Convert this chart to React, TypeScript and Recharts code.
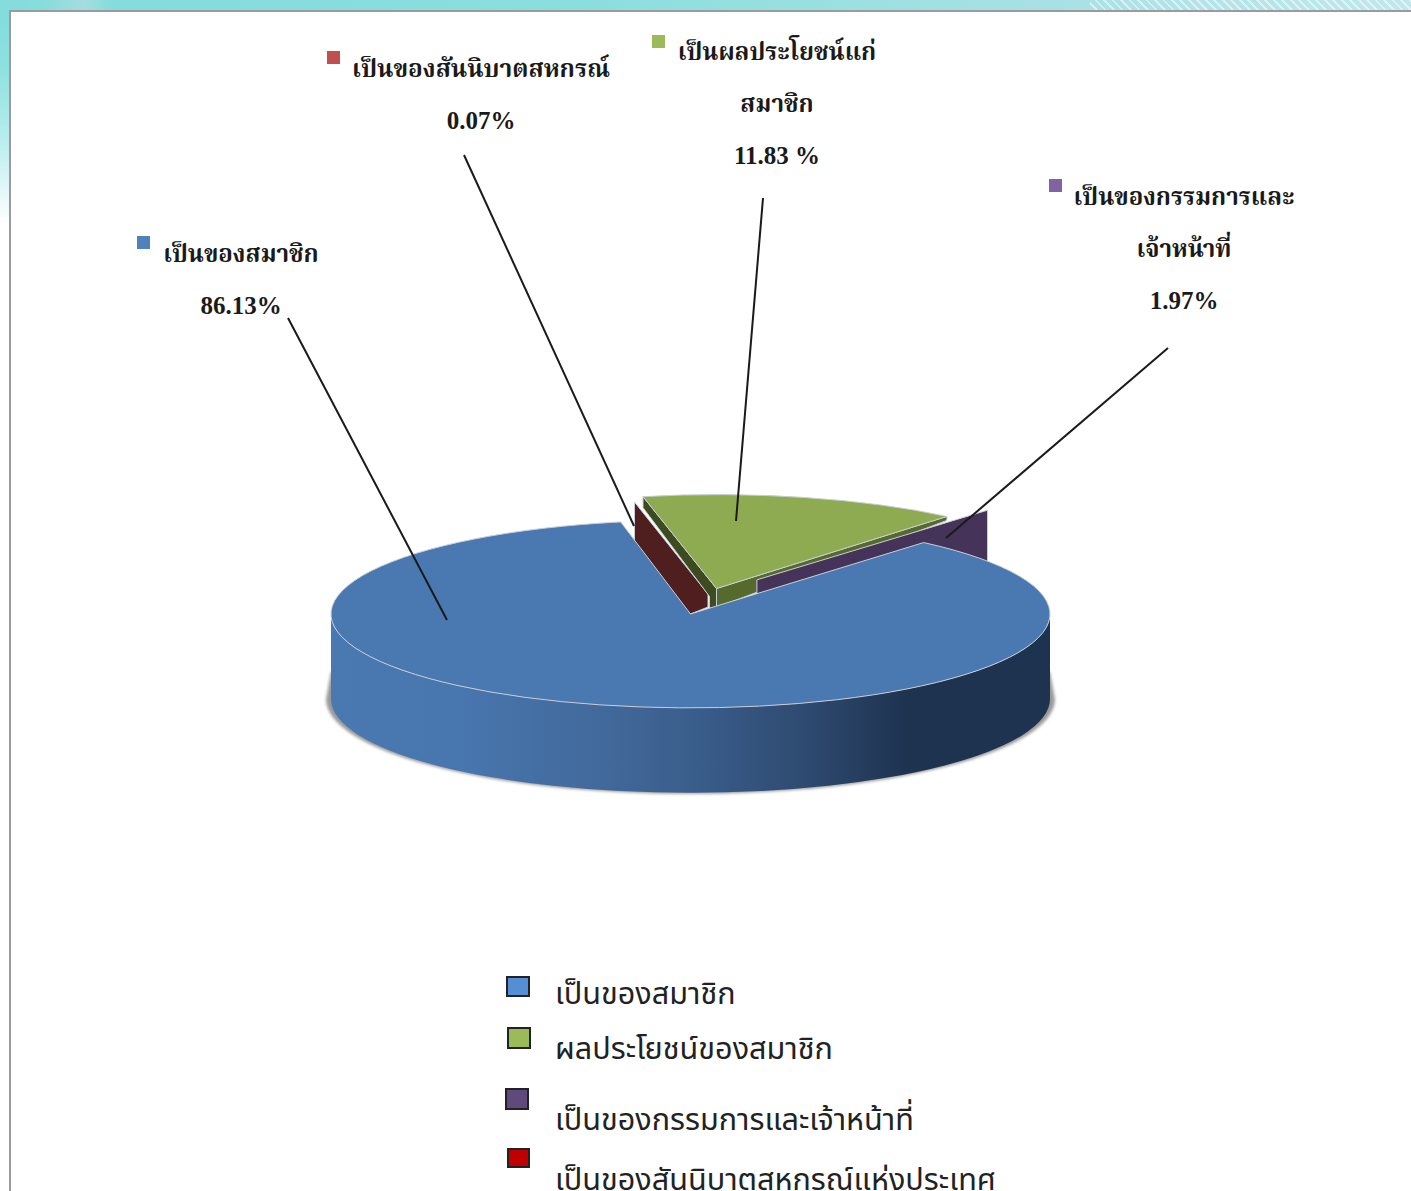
import React from 'react';
import { PieChart, Pie, Legend } from 'recharts';

// ---- data (clockwise from the top) ----
const sliceNames = ['เป็นของสันนิบาตสหกรณ์', 'เป็นผลประโยชน์แก่สมาชิก', 'เป็นของกรรมการและเจ้าหน้าที่', 'เป็นของสมาชิก'];
const sliceValues = [0.07, 11.83, 1.97, 86.13];
const labelTexts = [
  ['เป็นของสันนิบาตสหกรณ์', '0.07%'],
  ['เป็นผลประโยชน์แก่', 'สมาชิก', '11.83 %'],
  ['เป็นของกรรมการและ', 'เจ้าหน้าที่', '1.97%'],
  ['เป็นของสมาชิก', '86.13%'],
];
const legendNames = ['เป็นของสมาชิก', 'ผลประโยชน์ของสมาชิก', 'เป็นของกรรมการและเจ้าหน้าที่', 'เป็นของสันนิบาตสหกรณ์แห่งประเทศ'];

const chartData = sliceNames.map((name, i) => ({ name, value: sliceValues[i], idx: i }));

// ---- layout & style ----
const W = 1411, H = 1191;
const CX = 690.5, CY = 614, R = 359.5, K = 94 / 360, DEPTH = 85;
const START = 101.5;
const THAI_BOLD = "'Liberation Serif', 'Noto Serif Thai', 'Noto Sans Thai', serif";
const THAI_SANS = "'Noto Sans', 'Noto Sans Thai', 'DejaVu Sans', sans-serif";

const labelLayout = [
  { cx: 481, y0: 77, size: 24.4, mark: [327, 51], markFill: '#c0504d', lead: [464, 155, 634, 526] },
  { cx: 777, y0: 60, size: 24, mark: [652, 35], markFill: '#9bbb59', lead: [763, 198, 736, 521] },
  { cx: 1184, y0: 205, size: 24, mark: [1049, 179], markFill: '#8064a2', lead: [1168, 348, 946, 538] },
  { cx: 241, y0: 262, size: 24, mark: [137, 236], markFill: '#4f81bd', lead: [288, 318, 447, 620] },
];
const legendLayout = [
  { box: [507, 977, 22, 19], fill: '#558ed5', y: 1004 },
  { box: [508, 1028, 22, 20], fill: '#9bbb59', y: 1059 },
  { box: [506, 1089, 22, 20], fill: '#604a7b', y: 1130 },
  { box: [508, 1149, 21, 18], fill: '#c00000', y: 1190 },
];

const pt = (x: number, y: number, r: number, deg: number) => {
  const a = (deg * Math.PI) / 180;
  return [x + r * Math.cos(a), y - r * K * Math.sin(a)];
};
const poly = (pts: number[][]) => 'M' + pts.map((p) => p.map((v) => v.toFixed(1)).join(',')).join('L') + 'Z';
const sector = (x: number, y: number, r: number, a0: number, a1: number) => {
  const s = pt(x, y, r, a0), e = pt(x, y, r, a1);
  const large = Math.abs(a0 - a1) > 180 ? 1 : 0;
  return `M${x},${y}L${s[0]},${s[1]}A${r},${r * K} 0 ${large} 1 ${e[0]},${e[1]}Z`;
};
const EDGE = '#c9ced6';

function SliceShape(props: any) {
  const { cx, cy, outerRadius: r, startAngle, endAngle } = props;
  const idx = props.idx ?? props.payload?.idx;
  if (idx === 0) {
    // red: only its cut wall shows
    const a = [cx + 17.5, cy - 20];
    const o = pt(a[0], a[1], r, startAngle + 0.3);
    return (
      <path d={poly([o, a, [a[0], a[1] + 13], [cx, cy], [o[0], o[1] + 60]])} fill="#4f1f1f" stroke={EDGE} strokeWidth={1} />
    );
  }
  if (idx === 1) {
    const a = [cx + 26, cy - 25.5];
    const a0 = startAngle + 0.55;
    const a1 = startAngle - (startAngle - endAngle) * 1.2;
    const s = pt(a[0], a[1], r, a0);
    const e = pt(a[0], a[1], r, a1);
    return (
      <g>
        <path
          d={poly([s, a, [a[0], a[1] + 19], [a[0] - 7, a[1] + 20], [a[0] - 7, a[1] + 8], [s[0], s[1] + 11]])}
          fill="#3d4c20" stroke={EDGE} strokeWidth={1}
        />
        <path d={poly([a, e, [e[0], e[1] + 4], [a[0], a[1] + 19]])} fill="#556a2c" stroke={EDGE} strokeWidth={1} />
        <path d={sector(a[0], a[1], r, a0, a1)} fill="#8fab52" stroke={EDGE} strokeWidth={1} />
      </g>
    );
  }
  if (idx === 2) {
    const a = [cx + 29.5, cy - 23];
    const o = pt(a[0], a[1], r * 1.138, endAngle - 2.4);
    const p = [a[0] + (o[0] - a[0]) * 0.138, a[1] + (o[1] - a[1]) * 0.138];
    return (
      <path d={poly([p, o, [o[0], o[1] + 60], [p[0], p[1] + 60]])} fill="#46335a" stroke={EDGE} strokeWidth={1} />
    );
  }
  const wall = `M${cx - r},${cy}A${r},${r * K} 0 0 0 ${cx + r},${cy}L${cx + r},${cy + DEPTH}A${r},${r * K} 0 0 1 ${cx - r},${cy + DEPTH}Z`;
  const sr = r + 5;
  const shadow = `M${cx - r},${cy + 58}L${cx - sr},${cy + DEPTH}A${sr},${r * K + 1} 0 0 0 ${cx + sr},${cy + DEPTH}L${cx + r},${cy + 58}Z`;
  return (
    <g>
      <defs>
        <linearGradient id="wallGrad" x1="0" y1="0" x2="1" y2="0">
          <stop offset="0" stopColor="#4a78b0" />
          <stop offset="0.16" stopColor="#4877b0" />
          <stop offset="0.38" stopColor="#42699b" />
          <stop offset="0.5" stopColor="#3a5e8c" />
          <stop offset="0.66" stopColor="#2e4a70" />
          <stop offset="0.8" stopColor="#1e3350" />
          <stop offset="1" stopColor="#1e3350" />
        </linearGradient>
        <filter id="softShadow" x="-5%" y="-20%" width="110%" height="140%">
          <feGaussianBlur stdDeviation="1.6" />
        </filter>
      </defs>
      <path d={shadow} fill="#9a9a9a" filter="url(#softShadow)" />
      <path d={wall} fill="url(#wallGrad)" />
      <path d={sector(cx, cy, r, startAngle - 2, endAngle - 0.3)} fill="#4a78b0" stroke={EDGE} strokeWidth={1} />
    </g>
  );
}

function SliceLabel(props: any) {
  const idx = props.idx ?? props.payload?.idx ?? props.index;
  const l = labelLayout[idx];
  const [x1, y1, x2, y2] = l.lead;
  const lines = labelTexts[idx];
  return (
    <g>
      <rect x={l.mark[0]} y={l.mark[1]} width={13} height={13} fill={l.markFill} />
      <text fontFamily={THAI_BOLD} fontWeight="bold" fill="#1a1a1a" textAnchor="middle">
        {lines.map((t, i) => (
          <tspan key={i} x={l.cx} y={l.y0 + i * 52} fontSize={i === lines.length - 1 ? 25 : l.size}>{t}</tspan>
        ))}
      </text>
      <line x1={x1} y1={y1} x2={x2} y2={y2} stroke="#1a1a1a" strokeWidth={2} />
    </g>
  );
}

function LegendBlock() {
  return (
    <svg width={W} height={H} style={{ position: 'absolute', left: 0, top: 0 }}>
      {legendNames.map((n, i) => {
        const g = legendLayout[i];
        return (
          <g key={n}>
            <rect x={g.box[0]} y={g.box[1]} width={g.box[2]} height={g.box[3]} fill={g.fill} stroke="#222" strokeWidth={2} />
            <text x={555} y={g.y} fontFamily={THAI_SANS} fontSize={30.6} fill="#222">{n}</text>
          </g>
        );
      })}
    </svg>
  );
}

export default function App() {
  return (
    <div style={{ position: 'absolute', left: 0, top: 0, width: W, height: H, overflow: 'hidden', background: '#fff' }}>
      <div style={{ position: 'absolute', left: 0, top: 0, width: 10, height: 225, background: 'linear-gradient(180deg,#7fdcdc 0%,#8fe0e0 30%,#b5ecec 60%,#ffffff 100%)' }} />
      <div style={{ position: 'absolute', left: 0, top: 0, width: W, height: 10, background: 'linear-gradient(90deg,#84dcdc 0%,#88dcdc 3%,#a3dde0 6%,#84dcdc 8%,#8adede 40%,#a8e1e5 75%,#bfe8ec 100%)' }} />
      <div style={{ position: 'absolute', left: 1090, top: 0, width: W - 1090, height: 10, background: 'repeating-linear-gradient(45deg,rgba(255,255,255,0) 0,rgba(255,255,255,0) 4px,rgba(255,255,255,0.5) 4px,rgba(255,255,255,0.5) 6px)' }} />
      <div style={{ position: 'absolute', left: 9, top: 10, width: W, height: H, background: '#fff', borderLeft: '2px solid #9a9a9f', borderTop: '2px solid #9a9a9f' }} />
      <div style={{ position: 'absolute', left: 0, top: 0 }}>
        <PieChart width={W} height={H} margin={{ top: 0, right: 0, bottom: 0, left: 0 }}>
          <Pie
            data={chartData}
            dataKey="value"
            nameKey="name"
            cx={CX}
            cy={CY}
            innerRadius={0}
            outerRadius={R}
            startAngle={START}
            endAngle={START - 360}
            paddingAngle={0}
            stroke="none"
            isAnimationActive={false}
            shape={SliceShape}
            label={SliceLabel}
            labelLine={false}
          />
          <Legend
            content={() => <LegendBlock />}
            wrapperStyle={{ position: 'absolute', left: 0, top: 0, width: W, height: H, bottom: 'auto' }}
          />
        </PieChart>
      </div>
    </div>
  );
}
